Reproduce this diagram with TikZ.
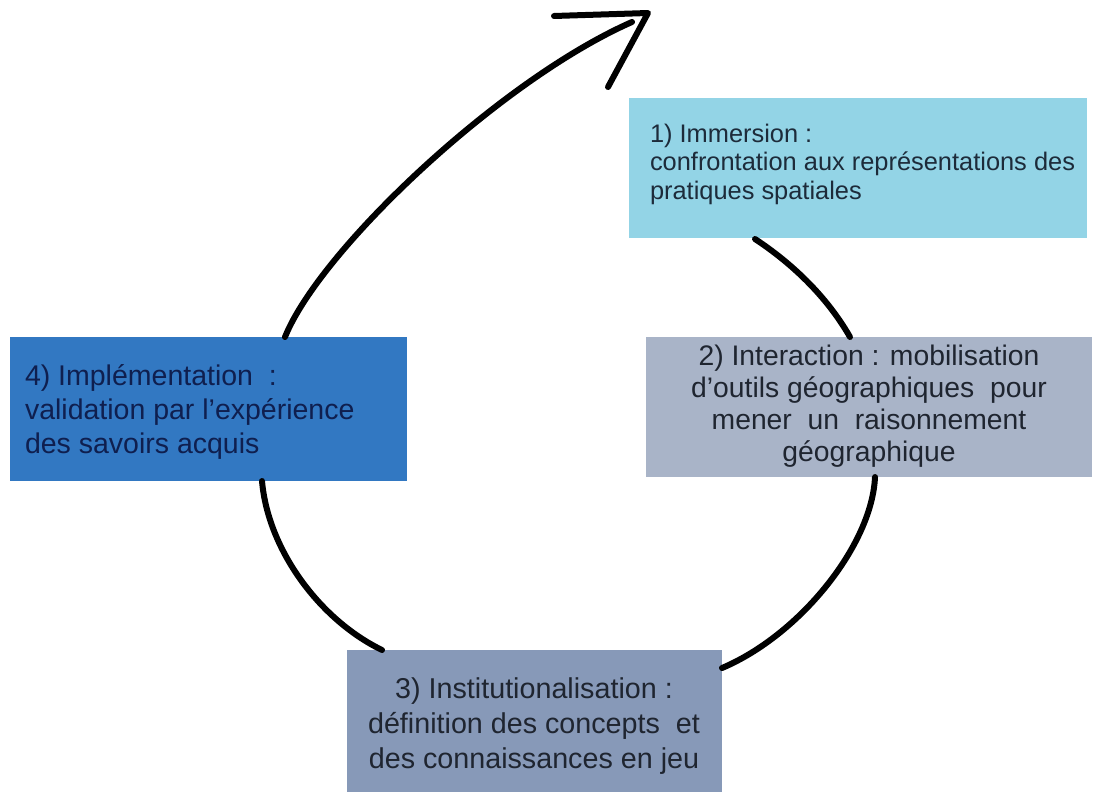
\documentclass[tikz,border=0pt]{standalone}
\usepackage{fontspec}
\setmainfont{Liberation Sans}
\definecolor{cA}{HTML}{93D4E6}
\definecolor{cB}{HTML}{A9B4C8}
\definecolor{cC}{HTML}{8799B8}
\definecolor{cD}{HTML}{3278C2}
\definecolor{tA}{HTML}{1D2B3A}
\definecolor{tB}{HTML}{1F2530}
\definecolor{tD}{HTML}{0F1F4F}
\tikzset{
  boxshape/.style={draw=none, rectangle, inner sep=0pt, outer sep=0pt, anchor=north west},
  txt/.style={inner sep=0pt, outer sep=0pt},
  loopline/.style={line width=6pt, line cap=round, line join=round, black}
}
\begin{document}
\begin{tikzpicture}[x=1pt,y=-1pt]
\useasboundingbox (0,0) rectangle (1094,792);
% boxes
\node[boxshape, fill=cA, minimum width=458pt, minimum height=140pt] (b1) at (629,98) {};
\node[boxshape, fill=cB, minimum width=446pt, minimum height=140pt] (b2) at (646,337) {};
\node[boxshape, fill=cC, minimum width=375pt, minimum height=142pt] (b3) at (347,650) {};
\node[boxshape, fill=cD, minimum width=397pt, minimum height=144pt] (b4) at (10,337) {};
% texts
\node[txt, anchor=north west, align=left, text=tA, font=\fontsize{25.4}{28.5}\selectfont] (t1) at (650,121)
  {\rule{0pt}{21pt}1) Immersion :\\confrontation aux représentations des\\pratiques spatiales};
\node[txt, anchor=north, align=center, text=tB, font=\fontsize{28.3}{32.3}\selectfont] (t2) at (869,342)
  {\rule{0pt}{23pt}2) Interaction : mobilisation\\d’outils géographiques\ \ pour\\mener\ \ un\ \ raisonnement\\géographique};
\node[txt, anchor=north, align=center, text=tB, font=\fontsize{28.7}{35}\selectfont] (t3) at (534,675)
  {\rule{0pt}{23pt}3) Institutionalisation :\\définition des concepts\ \ et\\des connaissances en jeu};
\node[txt, anchor=north west, align=left, text=tD, font=\fontsize{28.5}{34}\selectfont] (t4) at (25,362)
  {\rule{0pt}{23pt}4) Implémentation\ \ :\\validation par l’expérience\\des savoirs acquis};
% connector end points
\coordinate (p1) at (755,239);
\coordinate (p2) at (850,337);
\coordinate (p3) at (875,477);
\coordinate (p4) at (722,668);
\coordinate (p5) at (382,650);
\coordinate (p6) at (262,481);
\coordinate (p7) at (285,337);
\coordinate (p8) at (632,22);
\coordinate (tip) at (648,13);
\coordinate (h1) at (554,16);
\coordinate (h2) at (608,87);
% loop
\draw[loopline] (p1) .. controls (790,262) and (826,295) .. (p2);
\draw[loopline] (p3) .. controls (872,545) and (800,635) .. (p4);
\draw[loopline] (p5) .. controls (320,620) and (268,550) .. (p6);
\draw[loopline] (p7) .. controls (320,250) and (500,80) .. (p8);
\draw[loopline] (h1) -- (tip) -- (h2);
\end{tikzpicture}
\end{document}
